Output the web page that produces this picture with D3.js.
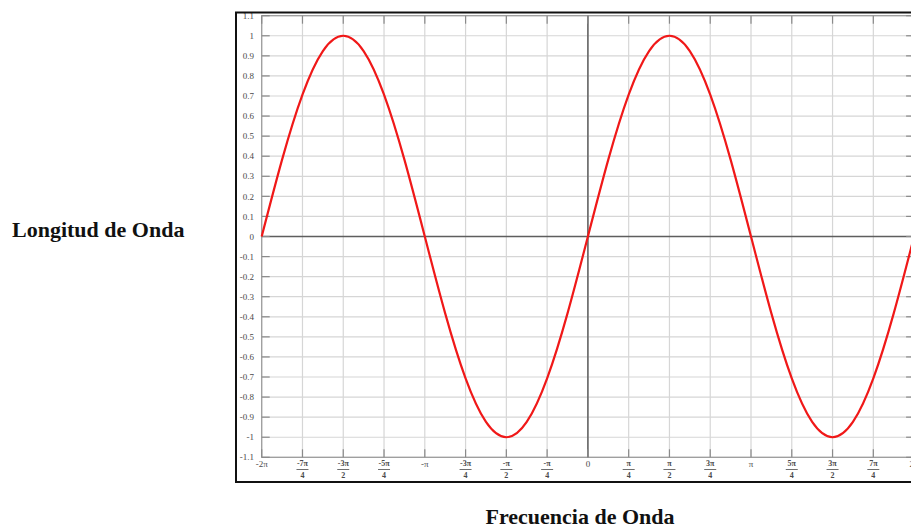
<!DOCTYPE html>
<html>
<head>
<meta charset="utf-8">
<script src="https://cdn.jsdelivr.net/npm/d3@7"></script>
<style>
  body { margin: 0; background: #fff; }
  svg { display: block; }
</style>
</head>
<body>
<div id="chart"></div>
<script>
// Posiciones en múltiplos de π/8 y valores
const curveSteps = [-16, -15, -14, -13, -12, -11, -10, -9, -8, -7, -6, -5, -4, -3, -2, -1, 0,
                    1, 2, 3, 4, 5, 6, 7, 8, 9, 10, 11, 12, 13, 14, 15, 16];
const curveValues = [0, 0.383, 0.707, 0.924, 1, 0.924, 0.707, 0.383, 0, -0.383, -0.707, -0.924, -1, -0.924, -0.707, -0.383, 0,
                     0.383, 0.707, 0.924, 1, 0.924, 0.707, 0.383, 0, -0.383, -0.707, -0.924, -1, -0.924, -0.707, -0.383, 0];

// Ticks del eje X (múltiplos de π/4) y sus etiquetas
const xTickSteps = [-8, -7, -6, -5, -4, -3, -2, -1, 0, 1, 2, 3, 4, 5, 6, 7, 8];
const xTickLabels = ["-2π", "-7π/4", "-3π/2", "-5π/4", "-π", "-3π/4", "-π/2", "-π/4", "0",
                     "π/4", "π/2", "3π/4", "π", "5π/4", "3π/2", "7π/4", "2π"];

// Ticks del eje Y
const yTickValues = [1.1, 1, 0.9, 0.8, 0.7, 0.6, 0.5, 0.4, 0.3, 0.2, 0.1, 0,
                     -0.1, -0.2, -0.3, -0.4, -0.5, -0.6, -0.7, -0.8, -0.9, -1, -1.1];
const yTickLabels = ["1.1", "1", "0.9", "0.8", "0.7", "0.6", "0.5", "0.4", "0.3", "0.2", "0.1", "0",
                     "-0.1", "-0.2", "-0.3", "-0.4", "-0.5", "-0.6", "-0.7", "-0.8", "-0.9", "-1", "-1.1"];

const width = 911, height = 529;
const PI = Math.PI;

const svg = d3.select("#chart").append("svg")
    .attr("width", width)
    .attr("height", height);

// Escalas (el área del gráfico continúa más allá del borde derecho)
const x = d3.scaleLinear().domain([-2 * PI, 2 * PI]).range([261.7, 914.1]);
const y = d3.scaleLinear().domain([-1.1, 1.1]).range([457.3, 15.7]);

const gridColor = "#d6d6d6";
const tickColor = "#8a8a8a";
const labelColor = "#4a4a4a";
const tickFont = "'Liberation Serif', 'Times New Roman', serif";

// --- Rejilla ---
svg.append("g").selectAll("line")
    .data(yTickValues).enter().append("line")
    .attr("x1", x(-2 * PI)).attr("x2", x(2 * PI))
    .attr("y1", d => y(d)).attr("y2", d => y(d))
    .attr("stroke", gridColor).attr("stroke-width", 1.2);

svg.append("g").selectAll("line")
    .data(xTickSteps).enter().append("line")
    .attr("x1", d => x(d * PI / 4)).attr("x2", d => x(d * PI / 4))
    .attr("y1", y(1.1)).attr("y2", y(-1.1))
    .attr("stroke", gridColor).attr("stroke-width", 1.2);

// Bordes del área de trazado
svg.append("rect")
    .attr("x", x(-2 * PI)).attr("y", y(1.1))
    .attr("width", x(2 * PI) - x(-2 * PI))
    .attr("height", y(-1.1) - y(1.1))
    .attr("fill", "none")
    .attr("stroke", "#9a9a9a").attr("stroke-width", 1.2);

// Ejes de cero
svg.append("line")
    .attr("x1", x(-2 * PI)).attr("x2", x(2 * PI))
    .attr("y1", y(0)).attr("y2", y(0))
    .attr("stroke", "#5e5e5e").attr("stroke-width", 1.5);
svg.append("line")
    .attr("x1", x(0)).attr("x2", x(0))
    .attr("y1", y(1.1)).attr("y2", y(-1.1))
    .attr("stroke", "#5e5e5e").attr("stroke-width", 1.5);

// --- Marcas de ticks (hacia adentro en los cuatro lados) ---
const tickLen = 8;
const yTicks = svg.append("g");
yTicks.selectAll(".tl").data(yTickValues).enter().append("line")
    .attr("x1", x(-2 * PI)).attr("x2", x(-2 * PI) + tickLen)
    .attr("y1", d => y(d)).attr("y2", d => y(d))
    .attr("stroke", tickColor).attr("stroke-width", 1.2);
yTicks.selectAll(".tr").data(yTickValues).enter().append("line")
    .attr("x1", x(2 * PI) - tickLen).attr("x2", x(2 * PI))
    .attr("y1", d => y(d)).attr("y2", d => y(d))
    .attr("stroke", tickColor).attr("stroke-width", 1.2);

const xTicks = svg.append("g");
xTicks.selectAll(".tb").data(xTickSteps).enter().append("line")
    .attr("x1", d => x(d * PI / 4)).attr("x2", d => x(d * PI / 4))
    .attr("y1", y(-1.1)).attr("y2", y(-1.1) - tickLen)
    .attr("stroke", tickColor).attr("stroke-width", 1.2);
xTicks.selectAll(".tt").data(xTickSteps).enter().append("line")
    .attr("x1", d => x(d * PI / 4)).attr("x2", d => x(d * PI / 4))
    .attr("y1", y(1.1)).attr("y2", y(1.1) + tickLen)
    .attr("stroke", tickColor).attr("stroke-width", 1.2);

// --- Etiquetas del eje Y ---
svg.append("g").selectAll("text")
    .data(yTickValues).enter().append("text")
    .attr("x", 254)
    .attr("y", d => y(d))
    .attr("dy", "0.35em")
    .attr("text-anchor", "end")
    .style("font-family", tickFont)
    .style("font-size", "9px")
    .style("fill", labelColor)
    .text((d, i) => yTickLabels[i]);

// --- Etiquetas del eje X (fracciones apiladas) ---
const xLab = svg.append("g").selectAll("g")
    .data(xTickSteps.map((s, i) => ({ step: s, label: xTickLabels[i] })))
    .enter().append("g")
    .attr("transform", d => `translate(${x(d.step * PI / 4)},0)`);

xLab.each(function(d) {
    const g = d3.select(this);
    const parts = d.label.split("/");
    if (parts.length === 1) {
        g.append("text")
            .attr("y", 467)
            .attr("text-anchor", "middle")
            .style("font-family", tickFont)
            .style("font-size", "9px")
            .style("fill", labelColor)
            .text(parts[0]);
    } else {
        g.append("text")
            .attr("y", 466)
            .attr("text-anchor", "middle")
            .style("font-family", tickFont)
            .style("font-size", "8px")
            .style("font-weight", "700")
            .style("fill", labelColor)
            .text(parts[0]);
        g.append("line")
            .attr("x1", -6).attr("x2", 6)
            .attr("y1", 469.5).attr("y2", 469.5)
            .attr("stroke", labelColor).attr("stroke-width", 0.8);
        g.append("text")
            .attr("y", 478)
            .attr("text-anchor", "middle")
            .style("font-family", tickFont)
            .style("font-size", "8px")
            .style("font-weight", "700")
            .style("fill", labelColor)
            .text(parts[1]);
    }
});

// --- Curva ---
const line = d3.line()
    .x((d, i) => x(curveSteps[i] * PI / 8))
    .y(d => y(d))
    .curve(d3.curveNatural);

svg.append("path")
    .datum(curveValues)
    .attr("d", line)
    .attr("fill", "none")
    .attr("stroke", "#f01818")
    .attr("stroke-width", 2.2);

// --- Marco exterior ---
svg.append("rect")
    .attr("x", 236).attr("y", 12.5)
    .attr("width", 700).attr("height", 469.5)
    .attr("fill", "none")
    .attr("stroke", "#111").attr("stroke-width", 2);

// --- Títulos de los ejes ---
svg.append("text")
    .attr("x", 12)
    .attr("y", 237)
    .style("font-family", tickFont)
    .style("font-size", "22px")
    .style("font-weight", "700")
    .style("fill", "#111")
    .text("Longitud de Onda");

svg.append("text")
    .attr("x", 580)
    .attr("y", 524)
    .attr("text-anchor", "middle")
    .style("font-family", tickFont)
    .style("font-size", "22px")
    .style("font-weight", "700")
    .style("fill", "#111")
    .text("Frecuencia de Onda");
</script>
</body>
</html>
